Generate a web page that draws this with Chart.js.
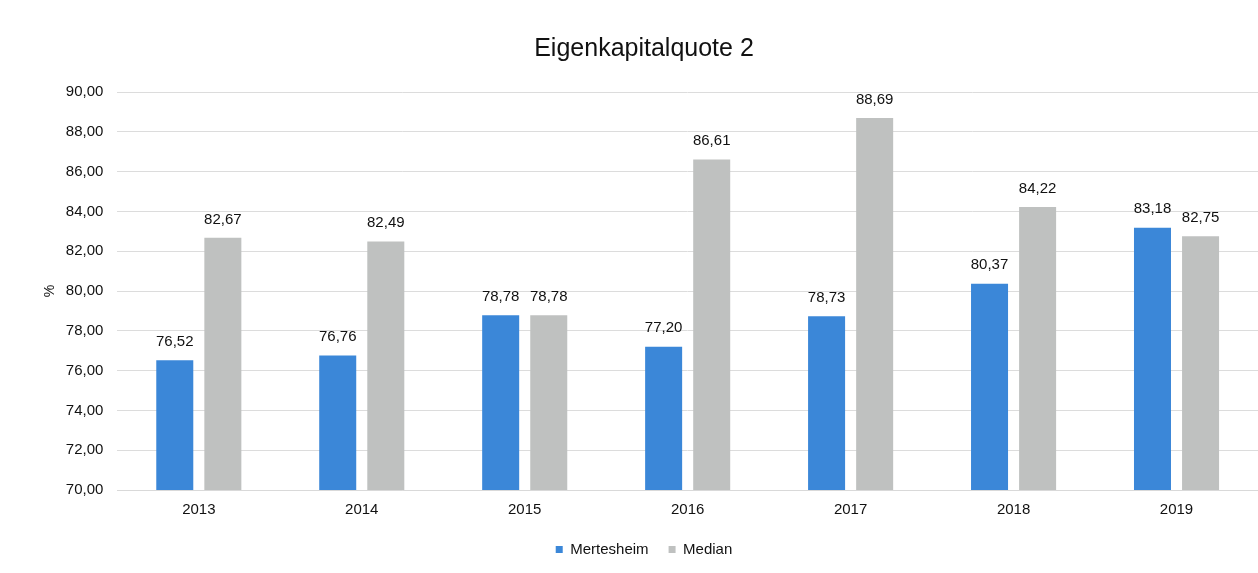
<!DOCTYPE html>
<html>
<head>
<meta charset="utf-8">
<script src="https://cdn.jsdelivr.net/npm/chart.js@4/dist/chart.umd.min.js"></script>
<style>
  html, body { margin: 0; padding: 0; background: #fff; }
  #wrap { width: 1258px; height: 573px; }
</style>
</head>
<body>
<div id="wrap"><canvas id="chart"></canvas></div>
<script>
const jahre = ['2013', '2014', '2015', '2016', '2017', '2018', '2019'];
const mertesheim = [76.52, 76.76, 78.78, 77.20, 78.73, 80.37, 83.18];
const median = [82.67, 82.49, 78.78, 86.61, 88.69, 84.22, 82.75];

// Zahlen im deutschen Format
function fmt(v) {
    return v.toFixed(2).replace('.', ',');
}

// Werte über die Balken schreiben
const wertePlugin = {
    id: 'werte',
    afterDatasetsDraw(chart) {
        const ctx = chart.ctx;
        ctx.save();
        ctx.font = '15px "Liberation Sans", Arial, sans-serif';
        ctx.fillStyle = '#111';
        ctx.textAlign = 'center';
        ctx.textBaseline = 'bottom';
        chart.data.datasets.forEach((ds, i) => {
            const meta = chart.getDatasetMeta(i);
            meta.data.forEach((bar, j) => {
                ctx.fillText(fmt(ds.data[j]), bar.x, bar.y - 11);
            });
        });
        ctx.restore();
    }
};

const schrift = '"Liberation Sans", Arial, sans-serif';

const ctx = document.getElementById('chart').getContext('2d');
new Chart(ctx, {
    type: 'bar',
    data: {
        labels: jahre,
        datasets: [
            { label: 'Mertesheim', data: mertesheim, backgroundColor: '#3b87d8' },
            { label: 'Median', data: median, backgroundColor: '#bfc1c0' }
        ]
    },
    options: {
        responsive: true,
        maintainAspectRatio: false,
        animation: false,
        categoryPercentage: 0.59,
        barPercentage: 0.77,
        layout: { padding: { left: 30, right: 0, top: 10, bottom: 6 } },
        plugins: {
            title: {
                display: true,
                text: 'Eigenkapitalquote 2',
                color: '#111',
                font: { family: schrift, size: 25, weight: 'normal' },
                padding: { top: 24, bottom: 28 }
            },
            legend: {
                position: 'bottom',
                labels: {
                    color: '#111',
                    boxWidth: 7,
                    boxHeight: 7,
                    padding: 20,
                    font: { family: schrift, size: 15 }
                }
            },
            tooltip: { enabled: false }
        },
        scales: {
            x: {
                grid: { display: false },
                border: { color: '#d9d9d9' },
                ticks: { color: '#111', font: { family: schrift, size: 15 }, padding: 3 }
            },
            y: {
                min: 70,
                max: 90,
                ticks: {
                    stepSize: 2,
                    color: '#111',
                    padding: 14,
                    font: { family: schrift, size: 15 },
                    callback: v => fmt(v)
                },
                grid: { color: '#dcdcdc', drawTicks: false },
                border: { display: false },
                title: {
                    display: true,
                    text: '%',
                    color: '#111',
                    font: { family: schrift, size: 14 },
                    padding: { top: 12, bottom: -7 }
                }
            }
        }
    },
    plugins: [wertePlugin]
});
</script>
</body>
</html>
